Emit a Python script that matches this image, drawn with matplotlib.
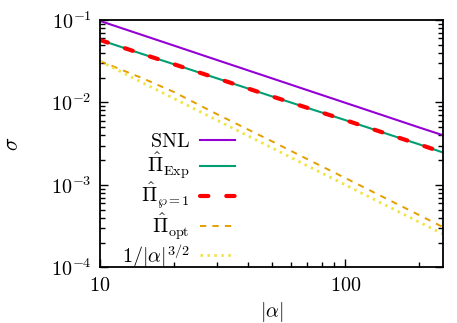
import numpy as np
import matplotlib
matplotlib.use("Agg")
import matplotlib.pyplot as plt
from matplotlib.ticker import FixedLocator, FixedFormatter, LogLocator, NullFormatter

plt.rcParams['mathtext.fontset'] = 'cm'
plt.rcParams['font.family'] = ['DejaVu Serif']

# data
alpha = [10, 15, 20, 30, 50, 70, 100, 150, 200, 250]
snl = [0.0975, 0.0652, 0.0490, 0.0327, 0.0197, 0.01410, 0.00990, 0.00662, 0.00497, 0.00400]
pi_exp = [0.0573, 0.0384, 0.0291, 0.0196, 0.0119, 0.0086, 0.0061, 0.0041, 0.0031, 0.00247]
pi_wp1 = [0.0573, 0.0384, 0.0291, 0.0196, 0.0119, 0.0086, 0.0061, 0.0041, 0.0031, 0.00247]
pi_opt = [0.0318, 0.0195, 0.0134, 0.0072, 0.0034, 0.00205, 0.00121, 0.00066, 0.00043, 0.000307]
ref32 = [0.03162, 0.01721, 0.01118, 0.006086, 0.002828, 0.001707, 0.001, 0.000544, 0.0003536, 0.000253]

labels = [r'$\mathrm{SNL}$', r'$\hat{\Pi}_{\mathrm{Exp}}$', r'$\hat{\Pi}_{\wp=1}$',
          r'$\hat{\Pi}_{\mathrm{opt}}$', r'$1/|\alpha|^{3/2}$']
xticks = [10, 100]
xticklabels = [r'$10$', r'$100$']
yticks = [1e-4, 1e-3, 1e-2, 1e-1]
yticklabels = [r'$10^{-4}$', r'$10^{-3}$', r'$10^{-2}$', r'$10^{-1}$']

fs = 14.5

fig = plt.figure(figsize=(4.57, 3.23), dpi=100)
ax = fig.add_axes([0.2188, 0.1724, 0.7506, 0.7656])

ax.plot(alpha, snl, color='#9400D3', lw=1.5, label=labels[0])
ax.plot(alpha, pi_exp, color='#009E73', lw=1.5, label=labels[1])
ax.plot(alpha, pi_wp1, color='#FF0000', lw=3.0, dashes=(2.0, 4.3),
        dash_capstyle='round', label=labels[2])
ax.plot(alpha, pi_opt, color='#E69F00', lw=1.4, dashes=(3.2, 3.2), label=labels[3])
ax.plot(alpha, ref32, color='#F0E442', lw=2.0, dashes=(0.9, 1.6), label=labels[4])

ax.set_xscale('log')
ax.set_yscale('log')
ax.set_xlim(10, 250)
ax.set_ylim(1e-4, 1e-1)

ax.xaxis.set_major_locator(FixedLocator(xticks))
ax.xaxis.set_major_formatter(FixedFormatter(xticklabels))
ax.xaxis.set_minor_locator(LogLocator(base=10, subs=np.arange(2, 10)))
ax.xaxis.set_minor_formatter(NullFormatter())
ax.yaxis.set_major_locator(FixedLocator(yticks))
ax.yaxis.set_major_formatter(FixedFormatter(yticklabels))
ax.yaxis.set_minor_locator(LogLocator(base=10, subs=np.arange(2, 10)))
ax.yaxis.set_minor_formatter(NullFormatter())

ax.tick_params(which='both', direction='in', top=False, right=True, labelsize=fs, width=1.0)
ax.tick_params(which='major', length=6, pad=6)
ax.tick_params(which='minor', length=3.5)
for s in ax.spines.values():
    s.set_linewidth(1.3)

ax.set_xlabel(r'$|\alpha|$', fontsize=fs, labelpad=4)
ax.set_ylabel(r'$\sigma$', fontsize=fs + 1, labelpad=20)

leg = ax.legend(loc='upper right', bbox_to_anchor=(0.394, 0.548), frameon=False,
                markerfirst=False, fontsize=fs, handlelength=1.75, handletextpad=0.5,
                labelspacing=0.0, borderpad=0, borderaxespad=0)

fig.savefig('out.png', dpi=100)
